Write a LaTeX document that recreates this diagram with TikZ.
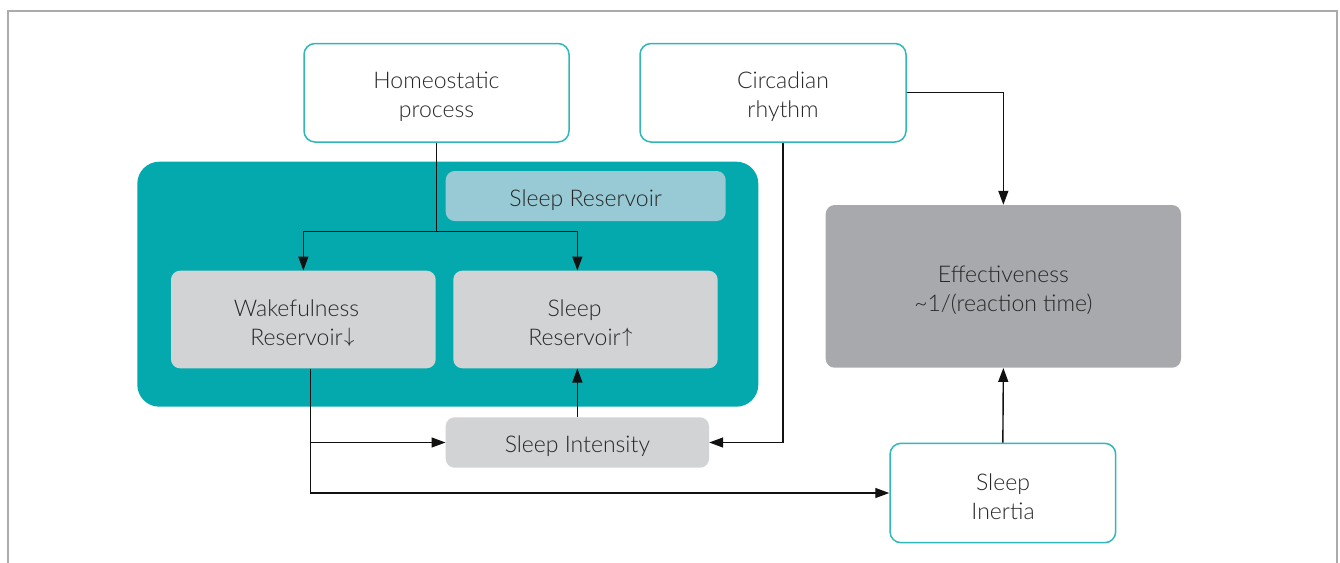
\documentclass[tikz,border=0pt]{standalone}
\usepackage{fontspec}
\setmainfont{Lato}[UprightFont=* Light]
\usetikzlibrary{arrows.meta}

\definecolor{panelteal}{HTML}{04A9AD}
\definecolor{edgeteal}{HTML}{2FB7BA}
\definecolor{paleblue}{HTML}{97CAD4}
\definecolor{lightgrey}{HTML}{D1D3D4}
\definecolor{midgrey}{HTML}{A8A9AD}
\definecolor{inkgrey}{HTML}{262626}
\definecolor{framegrey}{HTML}{ABABAB}
\definecolor{wireblack}{HTML}{111111}

% thin trend arrows placed after a word, not counted in its centring
\newcommand{\trend}[1]{\rlap{\kern1.5pt\raisebox{3.2pt}{\fontsize{20}{20}\selectfont$#1$}}}

\tikzset{
  caption/.style={font=\fontsize{23}{29}\selectfont, text=inkgrey, align=center, inner sep=0pt},
  outlinebox/.style={draw=edgeteal, line width=1.5pt, fill=white,
                     rounded corners=11pt, inner sep=0pt},
  greybox/.style={fill=lightgrey, rounded corners=9pt, inner sep=0pt},
  darkbox/.style={fill=midgrey, rounded corners=9pt, inner sep=0pt},
  palebox/.style={fill=paleblue, rounded corners=9pt, inner sep=0pt},
  panel/.style={fill=panelteal, rounded corners=22pt, inner sep=0pt},
  wire/.style={draw=wireblack, line width=1.4pt},
  arrowwire/.style={wire, -{Triangle[length=14pt,width=10pt]}},
}

\begin{document}
\begin{tikzpicture}[x=1pt, y=-1pt]
  \useasboundingbox (0,0) rectangle (1340,562);

  % page frame, open at the bottom
  \draw[framegrey, line width=1.5pt] (8,600) -- (8,11) -- (1337,11) -- (1337,600);

  % drivers
  \node[outlinebox, minimum width=265pt, minimum height=98.5pt] (homeo) at (436.5,92.75) {};
  \node[caption] (homeotext) at (436.5,96.75) {Homeostatic\\process};
  \node[outlinebox, minimum width=266pt, minimum height=98.5pt] (circ) at (773,92.75) {};
  \node[caption] (circtext) at (783,96.75) {Circadian\\rhythm};

  % reservoir panel
  \node[panel, minimum width=621pt, minimum height=245pt] (panel) at (447.8,284.2) {};
  \node[palebox, minimum width=280pt, minimum height=50pt] (sleepres) at (585.7,196) {};
  \node[caption] (sleeprestext) at (585.7,200) {Sleep Reservoir};
  \node[greybox, minimum width=264.7pt, minimum height=97.6pt] (wake) at (303.35,319.5) {};
  \node[caption] (waketext) at (296.5,323.5) {Wakefulness\\Reservoir\trend{\downarrow}};
  \node[greybox, minimum width=264.4pt, minimum height=97.6pt] (sleepup) at (585.5,319.5) {};
  \node[caption] (sleepuptext) at (574.5,323.5) {Sleep\\Reservoir\trend{\uparrow}};

  % lower row
  \node[greybox, minimum width=263.3pt, minimum height=50.4pt] (intensity) at (577.35,442.5) {};
  \node[caption] (intensitytext) at (577.35,446.5) {Sleep Intensity};
  \node[outlinebox, minimum width=225.7pt, minimum height=99.4pt] (inertia) at (1002.85,493) {};
  \node[caption] (inertiatext) at (1003,497) {Sleep\\Inertia};

  % output
  \node[darkbox, minimum width=355.3pt, minimum height=162.7pt] (effect) at (1003.35,286.35) {};
  \node[caption] (effecttext) at (1003.35,290.35) {Effectiveness\\\char`\~1/(reaction time)};

  % homeostatic process feeds both reservoirs
  \draw[wire] (homeo.south) -- ++(0,88.7) coordinate (split);
  \draw[arrowwire] (split) -| (wake.north);
  \draw[arrowwire] (split) -| (intensity.north |- sleepup.north);

  % sleep intensity fills the sleep reservoir
  \draw[arrowwire] (intensity.north) -- (intensity.north |- sleepup.south);

  % wakefulness reservoir drives intensity and inertia
  \coordinate (wakeout) at ([xshift=7.2pt]wake.south);
  \draw[arrowwire] (wakeout) |- (inertia.west);
  \draw[arrowwire] (wakeout |- intensity.west) -- (intensity.west);

  % circadian rhythm drives intensity and effectiveness
  \coordinate (circout) at ([xshift=10pt]circ.south);
  \draw[arrowwire] (circout) |- (intensity.east);
  \draw[arrowwire] (circ.east) -| (effect.north);

  % inertia acts on effectiveness
  \draw[arrowwire] (inertia.north) -- (effect.south);
\end{tikzpicture}
\end{document}
